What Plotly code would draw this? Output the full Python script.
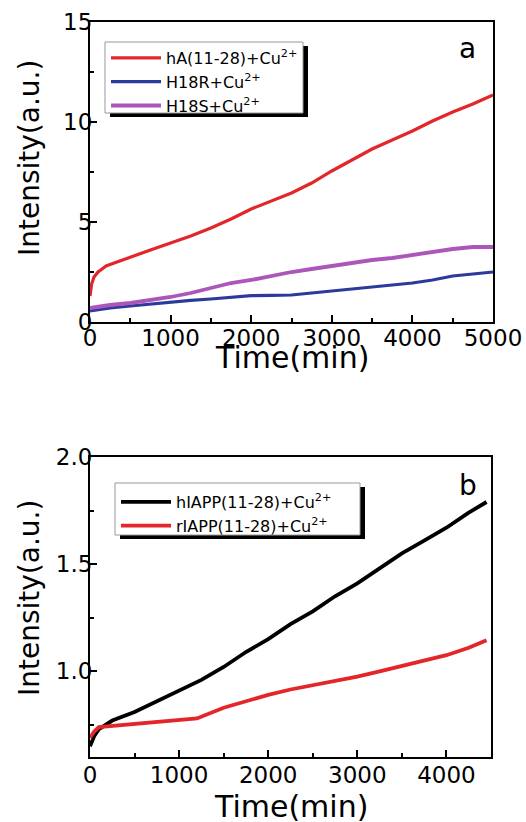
import plotly.graph_objects as go

# ---------------- data: panel a ----------------
time_a = [0, 20, 50, 100, 150, 200, 300, 400, 500, 750, 1000, 1250, 1500, 1750, 2000,
          2250, 2500, 2750, 3000, 3250, 3500, 3750, 4000, 4250, 4500, 4750, 5000]
hA_cu = [1.3, 1.9, 2.25, 2.5, 2.65, 2.8, 2.95, 3.1, 3.25, 3.6, 3.95, 4.3, 4.7, 5.15, 5.65,
         6.05, 6.45, 6.95, 7.55, 8.1, 8.65, 9.1, 9.55, 10.05, 10.5, 10.9, 11.35]
time_a2 = [0, 250, 500, 750, 1000, 1250, 1500, 1750, 2000, 2250, 2500, 2750, 3000, 3250,
           3500, 3750, 4000, 4250, 4500, 4750, 5000]
h18r_cu = [0.55, 0.7, 0.8, 0.9, 1.0, 1.08, 1.15, 1.25, 1.32, 1.33, 1.35, 1.45, 1.55, 1.65,
           1.75, 1.88, 1.95, 2.1, 2.3, 2.4, 2.5]
h18s_cu = [0.7, 0.85, 0.95, 1.1, 1.25, 1.45, 1.7, 1.95, 2.1, 2.3, 2.5, 2.65, 2.8, 2.95,
           3.1, 3.2, 3.35, 3.5, 3.65, 3.75, 3.75]

# ---------------- data: panel b ----------------
time_b = [0, 50, 100, 250, 500, 750, 1000, 1250, 1500, 1750, 2000, 2250, 2500, 2750,
          3000, 3250, 3500, 3750, 4000, 4250, 4450]
hiapp_cu = [0.65, 0.7, 0.73, 0.77, 0.81, 0.86, 0.91, 0.96, 1.02, 1.09, 1.15, 1.22, 1.28,
            1.35, 1.41, 1.48, 1.55, 1.61, 1.67, 1.74, 1.79]
time_b2 = [0, 50, 100, 250, 500, 750, 1000, 1200, 1500, 1750, 2000, 2250, 2500, 2750,
           3000, 3250, 3500, 3750, 4000, 4250, 4450]
riapp_cu = [0.69, 0.72, 0.74, 0.745, 0.755, 0.765, 0.77, 0.78, 0.83, 0.86, 0.89, 0.915,
            0.935, 0.955, 0.975, 1.0, 1.025, 1.05, 1.075, 1.11, 1.145]

names_a = ["hA(11-28)+Cu<sup>2+</sup>", "H18R+Cu<sup>2+</sup>", "H18S+Cu<sup>2+</sup>"]
names_b = ["hIAPP(11-28)+Cu<sup>2+</sup>", "rIAPP(11-28)+Cu<sup>2+</sup>"]

W, H = 526, 822
FONT = "DejaVu Sans, Liberation Sans, Arial, sans-serif"

def px_x(p):
    return p / W

def px_y(p):
    return 1 - p / H

fig = go.Figure()

RED = "#e3262a"
BLUE = "#2c3a9c"
PURPLE = "#ac55ba"

fig.add_trace(go.Scatter(x=time_a, y=hA_cu, name=names_a[0], mode="lines",
                         line=dict(color=RED, width=3.2), xaxis="x", yaxis="y", legend="legend"))
fig.add_trace(go.Scatter(x=time_a2, y=h18r_cu, name=names_a[1], mode="lines",
                         line=dict(color=BLUE, width=3.2), xaxis="x", yaxis="y", legend="legend"))
fig.add_trace(go.Scatter(x=time_a2, y=h18s_cu, name=names_a[2], mode="lines",
                         line=dict(color=PURPLE, width=3.8), xaxis="x", yaxis="y", legend="legend"))

fig.add_trace(go.Scatter(x=time_b, y=hiapp_cu, name=names_b[0], mode="lines",
                         line=dict(color="black", width=3.8), xaxis="x2", yaxis="y2", legend="legend2"))
fig.add_trace(go.Scatter(x=time_b2, y=riapp_cu, name=names_b[1], mode="lines",
                         line=dict(color=RED, width=3.8), xaxis="x2", yaxis="y2", legend="legend2"))

axis_common = dict(showline=True, linecolor="black", linewidth=2, mirror=True,
                   ticks="inside", ticklen=7, tickwidth=1.5, tickcolor="black",
                   showgrid=False, zeroline=False, automargin=False,
                   tickfont=dict(family=FONT, size=23, color="black"))
minor = dict(ticks="inside", ticklen=4, tickwidth=1.5, tickcolor="black", showgrid=False)

xa_dom = [px_x(90), px_x(493)]
xb_dom = [px_x(90), px_x(491)]
ya_dom = [px_y(322), px_y(22)]
yb_dom = [px_y(757), px_y(457)]

fig.update_layout(
    width=W, height=H,
    margin=dict(l=0, r=0, t=0, b=0),
    paper_bgcolor="white", plot_bgcolor="white",
    showlegend=True,
    xaxis=dict(domain=xa_dom, range=[0, 5000], dtick=1000, anchor="y", ticklabelstandoff=-6,
               minor=dict(dtick=500, **minor), **axis_common),
    yaxis=dict(domain=ya_dom, range=[0, 15], dtick=5, anchor="x", ticklabelstandoff=-9,
               minor=dict(dtick=2.5, **minor), **axis_common),
    xaxis2=dict(domain=xb_dom, range=[0, 4500], dtick=1000, anchor="y2", ticklabelstandoff=-4,
                minor=dict(dtick=500, **minor), **axis_common),
    yaxis2=dict(domain=yb_dom, range=[0.6, 2.0], dtick=0.5, tickformat=".1f", anchor="x2",
                ticklabelstandoff=-9, minor=dict(dtick=0.25, **minor), **axis_common),
    legend=dict(x=px_x(106), y=px_y(41), xanchor="left", yanchor="top",
                bgcolor="rgba(0,0,0,0)", borderwidth=0,
                font=dict(family=FONT, size=16, color="black"),
                tracegroupgap=0, itemwidth=50),
    legend2=dict(x=px_x(116), y=px_y(485), xanchor="left", yanchor="top",
                 bgcolor="rgba(0,0,0,0)", borderwidth=0,
                 font=dict(family=FONT, size=16, color="black"),
                 tracegroupgap=0, itemwidth=50),
)

# legend boxes with drop shadows (styling only)
for (x0, y0, x1, y1) in [(105, 42, 303, 113), (115, 483, 360, 535)]:
    fig.add_shape(type="rect", xref="paper", yref="paper",
                  x0=px_x(x0 + 5), x1=px_x(x1 + 5), y0=px_y(y1 + 4), y1=px_y(y0 + 4),
                  fillcolor="black", line=dict(width=0), layer="above")
    fig.add_shape(type="rect", xref="paper", yref="paper",
                  x0=px_x(x0), x1=px_x(x1), y0=px_y(y1), y1=px_y(y0),
                  fillcolor="white", line=dict(width=1, color="#999999"), layer="above")

# axis titles & panel labels
fig.add_annotation(text="Time(min)", x=px_x(292), y=px_y(357), xref="paper", yref="paper",
                   showarrow=False, font=dict(family=FONT, size=30, color="black"),
                   xanchor="center", yanchor="middle")
fig.add_annotation(text="Time(min)", x=px_x(291), y=px_y(806), xref="paper", yref="paper",
                   showarrow=False, font=dict(family=FONT, size=30, color="black"),
                   xanchor="center", yanchor="middle")
fig.add_annotation(text="Intensity(a.u.)", x=px_x(29), y=px_y(158), xref="paper", yref="paper",
                   showarrow=False, font=dict(family=FONT, size=28, color="black"),
                   textangle=-90, xanchor="center", yanchor="middle")
fig.add_annotation(text="Intensity(a.u.)", x=px_x(29), y=px_y(598), xref="paper", yref="paper",
                   showarrow=False, font=dict(family=FONT, size=28, color="black"),
                   textangle=-90, xanchor="center", yanchor="middle")
fig.add_annotation(text="a", x=px_x(468), y=px_y(48), xref="paper", yref="paper",
                   showarrow=False, font=dict(family=FONT, size=28, color="black"),
                   xanchor="center", yanchor="middle")
fig.add_annotation(text="b", x=px_x(468), y=px_y(485), xref="paper", yref="paper",
                   showarrow=False, font=dict(family=FONT, size=28, color="black"),
                   xanchor="center", yanchor="middle")

fig.write_html("out.html", config={"displayModeBar": False},
               post_script="document.body.style.margin='0px';")
